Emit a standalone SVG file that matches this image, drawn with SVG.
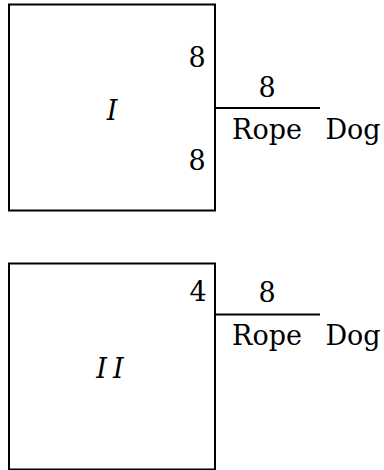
<svg xmlns="http://www.w3.org/2000/svg" width="384" height="470" viewBox="0 0 384 470">
<style>
.box{fill:#fff;stroke:#000;stroke-width:2}
.rope{stroke:#000;stroke-width:2;fill:none}
.t{font-family:"DejaVu Serif","Liberation Serif",serif;font-size:27px;fill:#000;text-anchor:middle}
.it{font-style:italic}
</style>
<rect width="384" height="470" fill="#fff"/>
<g id="box1">
<rect class="box" x="9" y="4.5" width="206" height="206"/>
<text class="t it" x="112" y="120">I</text>
<text class="t" x="197" y="67">8</text>
<text class="t" x="197" y="170">8</text>
</g>
<g id="box2">
<rect class="box" x="9" y="263.5" width="206" height="206"/>
<text class="t it" x="113" y="378" letter-spacing="6">II</text>
<text class="t" x="198" y="301">4</text>
</g>
<g id="connectors">
<line class="rope" x1="215" y1="108" x2="320" y2="108"/>
<line class="rope" x1="215" y1="314.5" x2="320" y2="314.5"/>
</g>
<g id="labels1">
<text class="t" x="267" y="97">8</text>
<text class="t" x="267" y="139">Rope</text>
<text class="t" x="353" y="139">Dog</text>
</g>
<g id="labels2">
<text class="t" x="267" y="302">8</text>
<text class="t" x="267" y="345">Rope</text>
<text class="t" x="353" y="345">Dog</text>
</g>
</svg>
